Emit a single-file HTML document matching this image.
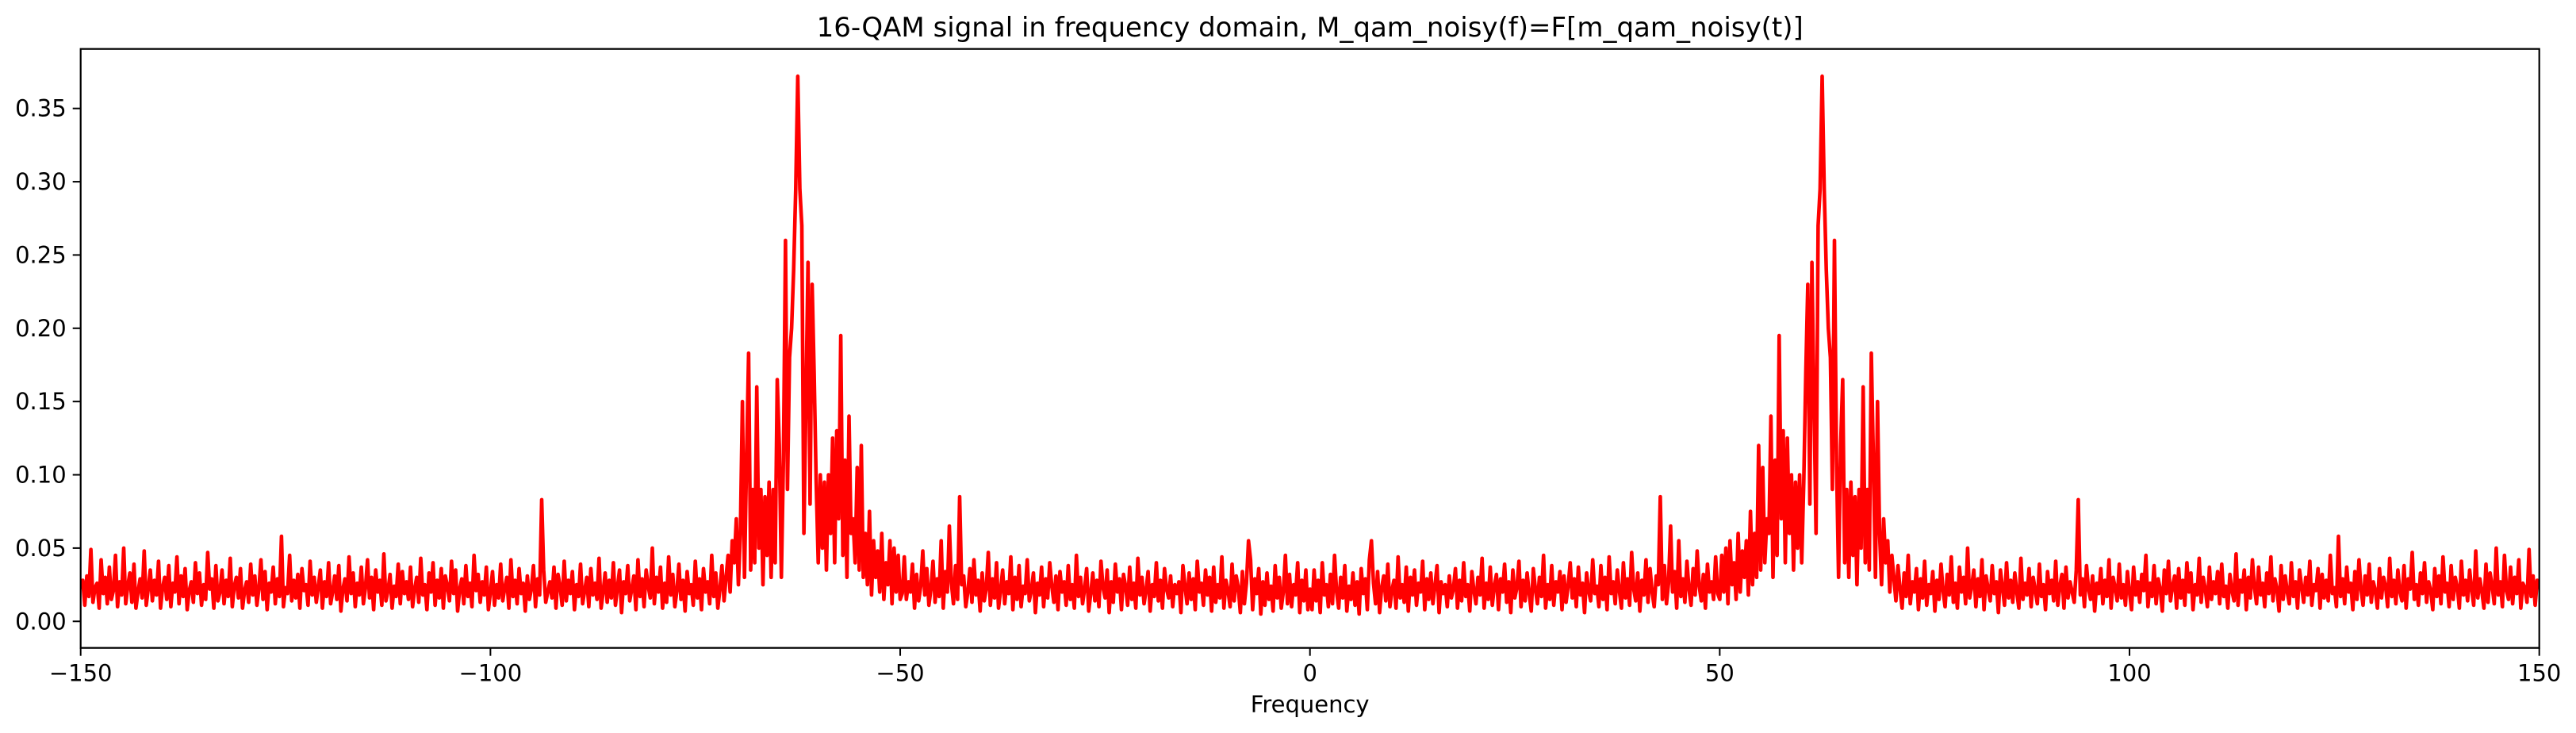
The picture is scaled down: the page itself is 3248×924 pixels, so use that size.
<!DOCTYPE html>
<html><head><meta charset="utf-8">
<style>
html,body{margin:0;padding:0;background:#fff;}
svg{display:block;font-family:"DejaVu Sans","Liberation Sans",sans-serif;}
</style></head>
<body>
<svg id="chart" width="3248" height="924" viewBox="0 0 3248 924" xmlns="http://www.w3.org/2000/svg">
<rect width="3248" height="924" fill="#fff"/>
<text x="1651.7" y="46" font-size="34" text-anchor="middle" fill="#000">16-QAM signal in frequency domain, M_qam_noisy(f)=F[m_qam_noisy(t)]</text>
<defs><clipPath id="plotclip"><rect x="101.7" y="61.7" width="3100" height="755"/></clipPath></defs>
<g id="series" clip-path="url(#plotclip)"></g>
<g id="axes"></g>
<text x="1651.7" y="898" font-size="29" text-anchor="middle" fill="#000">Frequency</text>
</svg>
<script>
// Positive-frequency magnitudes (×0.001), 0..150 step 0.25; spectrum mirrored for negative side
const noiseLow = [22,8,35,14,28,6,40,18,25,10,32,12,45,20,9,30,16,38,7,24,
15,33,11,27,5,36,19,29,8,42,55,26,12,34,6,23,31,14,39,10,
21,28,9,44,16,25,13,37,7,30,18,35,11,26,20,41,8,29,15,33,
12,24,38,6,27,19,25,10,31,16,22,36,9,28,14,40,17,25,7,34,
21,12,30,18,43,9,26,15,37,11,24,32,8,29,20,39,13,27,6,35,
16,23,41,10,28,14,33,19,7,36,22,12,30,17,45,9,25,15,38,11,
27,20,34,8,31,13,24,40,16,29,10,37,18,26,6,33,21,14,42,19];
const noiseMid = [24,10,38,15,30,8,44,19,27,12,35,21,9,40,16,29,11,47,22,14,
33,7,28,18,42,13,36,20,10,31,25,85,15,38,12,26,65,20,34,9,
55,17,29,13,41,22,11,36,18,48,24,14,32,9,39,20,27,15,44,19];
const riseVals = [15,45,20,50,12,55,25,40,15,60,20,48,30,55,18,75,25,60,30,120,35,105,40,70];
const peakVals = [60,140,30,110,45,195,70,130,40,125,60,100,35,95,50,100,40,95,170,230,
80,245,150,60,270,295,372,295,240,200,180,90,260,110,30,120,165,40,90,30,
95,45,85,25,90,50,160,40,90,35,183,110,30,150,60,25,70,40,55,20,45];
const noiseHigh = [30,14,38,22,9,33,17,45,12,27,20,36,8,29,16,41,11,25,19,34,
7,28,15,39,21,10,32,18,44,13,26,9,37,20,30,12,50,16,24,35,
10,29,17,42,8,31,22,14,38,19,27,6,35,23,11,40,16,28,13,33,
20,9,43,15,26,18,36,10,30,21,12,39,17,25,8,34,19,28,14,41,
11,24,32,9,37,16,27,20,13,35,83,18,29,10,38,22,15,31,7,26,
19,36,12,28,17,42,9,30,23,14,39,16,25,11,34,20,8,37,18,27,
13,32,21,45,10,26,17,38,12,29,22,7,35,19,41,14,24,31,9,36,
16,28,11,40,20,33,8,25,18,43,13,30,22,10,37,15,27,19,34,12,
39,17,24,9,32,21,14,46,11,28,20,35,8,30,16,42,23,12,37,18,
26,10,33,19,44,14,29,22,7,38,15,31,20,12,40,17,27,9,35,24,
13,30,18,41,11,25,21,36,9,32,16,28,14,45,19,23,10,58,17,29,
12,37,20,26,8,34,15,42,22,11,31,18,39,13,27,21,9,36,16,30,
24,10,43,17,28,12,35,20,14,38,9,29,22,47,15,25,11,33,19,40,
13,27,21,8,36,17,31,12,44,20,26,10,38,15,30,23,9,41,18,28,
14,35,22,11,48,16,29,20,9,39,13,33,24,12,50,18,27,10,45,21,
15,37,12,30,19,42,9,26,23,13,49,17,31,11,28,22];
const xTicks = [-150,-100,-50,0,50,100,150];
const xTickLabels = ["\u2212150","\u2212100","\u221250","0","50","100","150"];
const yTicks = [0,0.05,0.10,0.15,0.20,0.25,0.30,0.35];
const yTickLabels = ["0.00","0.05","0.10","0.15","0.20","0.25","0.30","0.35"];

const X0=101.7, X1=3201.7, Y0=61.7, Y1=816.7;
const xMin=-150, xMax=150, yMin=-0.0181, yMax=0.3906;
function xs(v){return X0+(v-xMin)/(xMax-xMin)*(X1-X0);}
function ys(v){return Y1-(v-yMin)/(yMax-yMin)*(Y1-Y0);}
const NS="http://www.w3.org/2000/svg";

const pos = noiseLow.concat(noiseMid, riseVals, peakVals, noiseHigh).map(v=>v/1000);
const step = 150/(pos.length-1);
const pts=[];
for(let i=pos.length-1;i>0;i--) pts.push([xs(-i*step), ys(pos[i])]);
for(let i=0;i<pos.length;i++) pts.push([xs(i*step), ys(pos[i])]);
const line=document.createElementNS(NS,"polyline");


line.setAttribute("points", pts.map(p=>p[0].toFixed(1)+","+p[1].toFixed(1)).join(" "));
line.setAttribute("fill","none");
line.setAttribute("stroke","#ff0000");
line.setAttribute("stroke-width","4.6");
line.setAttribute("stroke-linejoin","round");
document.getElementById("series").appendChild(line);

const axes=document.getElementById("axes");
const frame=document.createElementNS(NS,"rect");


frame.setAttribute("x",X0);frame.setAttribute("y",Y0);
frame.setAttribute("width",X1-X0);frame.setAttribute("height",Y1-Y0);
frame.setAttribute("fill","none");frame.setAttribute("stroke","#000");frame.setAttribute("stroke-width","2.2");
axes.appendChild(frame);

xTicks.forEach((t,i)=>{
  const x=xs(t);
  const tk=document.createElementNS(NS,"line");
  
  
  tk.setAttribute("x1",x);tk.setAttribute("x2",x);tk.setAttribute("y1",Y1);tk.setAttribute("y2",Y1+10);
  tk.setAttribute("stroke","#000");tk.setAttribute("stroke-width","2");
  axes.appendChild(tk);
  const lb=document.createElementNS(NS,"text");
  
  
  lb.setAttribute("x",x);lb.setAttribute("y",Y1+42);
  lb.setAttribute("font-size","29");lb.setAttribute("text-anchor","middle");
  lb.textContent=xTickLabels[i];
  axes.appendChild(lb);
});
yTicks.forEach((t,i)=>{
  const y=ys(t);
  const tk=document.createElementNS(NS,"line");
  
  
  tk.setAttribute("x1",X0-10);tk.setAttribute("x2",X0);tk.setAttribute("y1",y);tk.setAttribute("y2",y);
  tk.setAttribute("stroke","#000");tk.setAttribute("stroke-width","2");
  axes.appendChild(tk);
  const lb=document.createElementNS(NS,"text");
  
  
  lb.setAttribute("x",X0-18);lb.setAttribute("y",y+10);
  lb.setAttribute("font-size","29");lb.setAttribute("text-anchor","end");
  lb.textContent=yTickLabels[i];
  axes.appendChild(lb);
});
</script>
</body></html>
